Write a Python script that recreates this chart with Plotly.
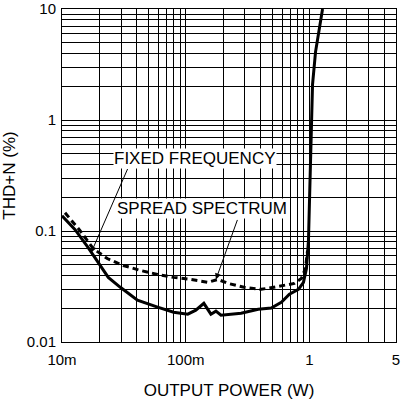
import numpy as np
import plotly.graph_objects as go

# Fixed frequency (solid)
fixed_power = [0.0100, 0.01276, 0.01627, 0.0196, 0.02366, 0.0296, 0.0407, 0.0592, 0.0798,
               0.1038, 0.1206, 0.140, 0.1597, 0.1753, 0.1926, 0.280, 0.385, 0.491, 0.592,
               0.688, 0.814, 0.894, 0.945, 0.981, 1.000, 1.019, 1.058, 1.119, 1.275]
fixed_thdn = [0.137, 0.1027, 0.0709, 0.0520, 0.0382, 0.0311, 0.0238, 0.0206, 0.01856,
              0.0178, 0.01935, 0.0223, 0.0178, 0.01895, 0.01744, 0.01818, 0.01974, 0.0202, 0.0228,
              0.0269, 0.0298, 0.0345, 0.046, 0.0818, 0.187, 0.743, 2.08, 4.11, 10.0]

# Spread spectrum (dashed)
spread_power = [0.01058, 0.0140, 0.01787, 0.0232, 0.0313, 0.0431, 0.0592, 0.0798, 0.1098,
                0.151, 0.182, 0.2196, 0.296, 0.407, 0.56, 0.755, 0.861, 0.928, 0.964]
spread_thdn = [0.146, 0.1006, 0.0694, 0.0565, 0.0489, 0.0441, 0.0406, 0.0382, 0.0366,
               0.0345, 0.0366, 0.0337, 0.0311, 0.0298, 0.0317, 0.0337, 0.0374, 0.046, 0.0666]

x_tickvals = [0.01, 0.02, 0.03, 0.04, 0.05, 0.06, 0.07, 0.08, 0.09,
              0.1, 0.2, 0.3, 0.4, 0.5, 0.6, 0.7, 0.8, 0.9,
              1, 2, 3, 4, 5]
x_ticktext = ["10m", "", "", "", "", "", "", "", "",
              "100m", "", "", "", "", "", "", "", "",
              "1", "", "", "", "5"]
y_tickvals = [0.01, 0.02, 0.03, 0.04, 0.05, 0.06, 0.07, 0.08, 0.09,
              0.1, 0.2, 0.3, 0.4, 0.5, 0.6, 0.7, 0.8, 0.9,
              1, 2, 3, 4, 5, 6, 7, 8, 9, 10]
y_ticktext = ["0.01", "", "", "", "", "", "", "", "",
              "0.1", "", "", "", "", "", "", "", "",
              "1", "", "", "", "", "", "", "", "", "10"]

font_family = "Liberation Sans, Arial, sans-serif"

fig = go.Figure()
fig.add_trace(go.Scatter(x=spread_power, y=spread_thdn, mode="lines",
                         line=dict(color="black", width=3, dash="6px,4px"),
                         name="SPREAD SPECTRUM"))
fig.add_trace(go.Scatter(x=fixed_power, y=fixed_thdn, mode="lines",
                         line=dict(color="black", width=3),
                         name="FIXED FREQUENCY"))

# arrows
fig.add_annotation(x=np.log10(0.01722), y=np.log10(0.064), text="", showarrow=True,
                   ax=37, ay=-85, arrowhead=2, arrowsize=1.2, arrowwidth=1, arrowcolor="black")
fig.add_annotation(x=np.log10(0.1753), y=np.log10(0.0366), text="", showarrow=True,
                   ax=22, ay=-61, arrowhead=2, arrowsize=1.2, arrowwidth=1, arrowcolor="black")
# labels
fig.add_annotation(x=np.log10(0.1183), y=np.log10(0.453), text="FIXED FREQUENCY",
                   showarrow=False, bgcolor="white", borderpad=0,
                   font=dict(size=17, color="black", family=font_family))
fig.add_annotation(x=np.log10(0.135), y=np.log10(0.158), text="SPREAD SPECTRUM",
                   showarrow=False, bgcolor="white", borderpad=0,
                   font=dict(size=17, color="black", family=font_family))

axis_common = dict(type="log", showgrid=True, gridcolor="black", gridwidth=1,
                   showline=True, linecolor="black", linewidth=1, mirror=True,
                   ticks="", zeroline=False, automargin=False, ticklabeloverflow="allow",
                   tickfont=dict(size=15, color="black", family=font_family))

fig.update_layout(
    width=401, height=400,
    margin=dict(l=62, r=5, t=9, b=58),
    paper_bgcolor="white", plot_bgcolor="white",
    showlegend=False,
    font=dict(family=font_family, color="black"),
    xaxis=dict(axis_common, range=[-2.0001, np.log10(5) + 0.0001], tickvals=x_tickvals,
               ticktext=x_ticktext, ticklabelstandoff=4,
               title=dict(text="OUTPUT POWER (W)", font=dict(size=17, color="black"), standoff=18)),
    yaxis=dict(axis_common, range=[-2.0001, 1.0001], tickvals=y_tickvals, ticktext=y_ticktext,
               ticklabelstandoff=2,
               title=dict(text="THD+N (%)", font=dict(size=17, color="black"), standoff=8)),
)

fig.write_html("out.html", config={"displayModeBar": False},
               post_script="document.body.style.margin='0';document.body.style.overflow='hidden';")
